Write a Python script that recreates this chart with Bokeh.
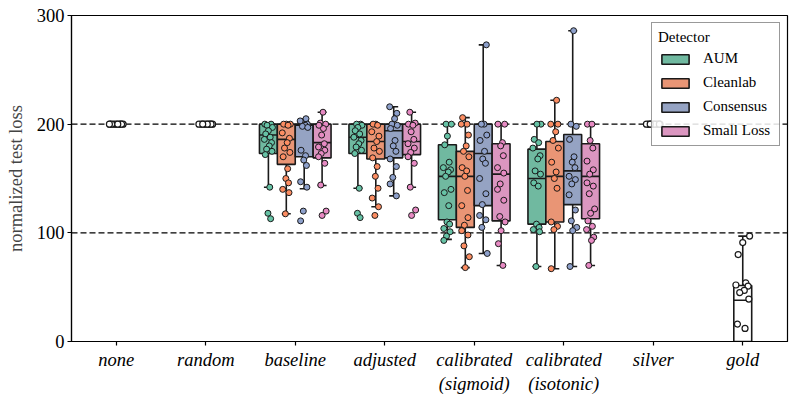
from bokeh.plotting import figure
from bokeh.models import Range1d, FixedTicker, Span, ColumnDataSource, Legend, LegendItem
from bokeh.embed import file_html
from bokeh.resources import INLINE

categories = ["none", "random", "baseline", "adjusted", "calibrated\n(sigmoid)",
              "calibrated\n(isotonic)", "silver", "gold"]
detectors = ["AUM", "Cleanlab", "Consensus", "Small Loss"]
y_ticks = [0, 100, 200, 300]
ref_lines = [100, 200]

# categories where detectors are compared
det_categories = ["baseline", "adjusted", "calibrated\n(sigmoid)", "calibrated\n(isotonic)"]
# box statistics per detector, one value per det_category
q1 = {"AUM": [173, 173, 112, 108], "Cleanlab": [163, 168, 105, 110],
      "Consensus": [170, 169, 125, 126], "Small Loss": [169, 172, 111, 113]}
med = {"AUM": [190, 188, 152, 150], "Cleanlab": [186, 184, 152, 152],
       "Consensus": [199, 194, 173, 157], "Small Loss": [183, 184, 154, 152]}
q3 = {"AUM": [200, 200, 181, 177], "Cleanlab": [200, 200, 175, 184],
      "Consensus": [200, 200, 200, 190.5], "Small Loss": [200, 200, 182, 182]}
wlo = {"AUM": [142, 141, 94, 69], "Cleanlab": [117.5, 124, 68, 67],
       "Consensus": [140.5, 134, 81, 69], "Small Loss": [143.5, 142, 70, 70]}
whi = {"AUM": [200, 200, 200, 200], "Cleanlab": [200, 200, 206, 222],
       "Consensus": [205, 216, 273, 286], "Small Loss": [211, 211, 200, 200]}

# individual runs
pts = {
    "AUM": [
        [200, 200, 199, 197, 194, 191, 188, 186, 183, 180, 177, 175, 172, 142, 118, 113],
        [200, 200, 199, 197, 194, 191, 188, 185, 182, 179, 176, 173, 141, 118, 114],
        [200, 200, 189, 181, 165, 160, 158, 156, 152, 140, 137, 125, 110, 108, 104, 101, 97, 93],
        [200, 200, 186, 183, 178, 171, 168, 157, 154, 146, 143, 108, 105, 103, 101, 69],
    ],
    "Cleanlab": [
        [200, 200, 200, 199, 192, 187, 183, 178, 174, 170, 159, 150, 146, 140, 137, 117.5],
        [200, 200, 199, 193, 189, 184, 178, 175, 169, 161, 152, 141, 132, 124, 116],
        [206, 200, 200, 190, 180, 175, 170, 160, 157, 152, 139, 125, 114, 107, 102, 98, 88, 78, 68],
        [222, 200, 200, 193, 185, 178, 165, 156, 150, 141, 110, 106, 103, 67],
    ],
    "Consensus": [
        [205, 203, 200, 199, 198, 197, 176, 171, 167, 162, 147, 142, 120, 111],
        [216, 210, 205, 200, 199, 196, 185, 180, 175, 168, 161, 151, 145, 134],
        [273, 200, 200, 190, 185, 175, 168, 164, 150, 136, 126, 116, 112, 105, 81],
        [286, 200, 198, 186, 170, 165, 160, 152, 149, 145, 135, 121, 111, 105, 102, 69],
    ],
    "Small Loss": [
        [211, 201, 200, 199, 196, 190, 182, 179, 176, 173, 170, 164, 144, 120, 116],
        [211, 201, 200, 199, 193, 186, 182, 178, 174, 170, 164, 142, 121, 116],
        [200, 200, 183, 180, 171, 160, 155, 145, 140, 130, 115, 110, 102, 90, 70],
        [200, 200, 185, 178, 166, 158, 154, 146, 143, 136, 122, 118, 111, 106, 103, 96, 93, 70],
    ],
}

# single-box categories
single_categories = ["none", "random", "silver", "gold"]
single_q1 = [200, 200, 200, -5]
single_med = [200, 200, 200, 38]
single_q3 = [200, 200, 200, 51.5]
single_lo = [200, 200, 200, -30]
single_hi = [200, 200, 200, 97]
single_pts = [
    [200] * 10,
    [200] * 10,
    [200] * 10,
    [97, 91, 80, 54, 52, 51, 47, 45, 39, 16, 12],
]

box_colors = ["#70b9a0", "#e99575", "#95a3c3", "#db96c0"]
point_colors = ["#66c2a5", "#fc8d62", "#8da0cb", "#e78ac3"]
jit = [-0.04, 0.03, -0.015, 0.045, 0.0, -0.03, 0.02, -0.045, 0.035, 0.01,
       -0.02, 0.04, -0.035, 0.015, -0.005, 0.025, -0.04, 0.03, -0.01]

FONT = "Liberation Serif"
LINE = "#1a1a1a"
BOXW = 0.2
FS = "18.5px"

p = figure(frame_width=716, frame_height=326, output_backend="svg", toolbar_location=None,
           x_range=Range1d(0, len(categories)), y_range=Range1d(0, 300),
           min_border_left=71, min_border_right=3, min_border_top=15, min_border_bottom=52)
p.xgrid.visible = False
p.ygrid.visible = False
p.outline_line_color = "black"
p.outline_line_width = 1.2
p.background_fill_color = "white"

for r in ref_lines:
    p.add_layout(Span(location=r, dimension="width", line_color="black",
                      line_dash="6 3", line_width=1.4, level="underlay"))

def cx(cat):
    return categories.index(cat) + 0.5

legend_items = []
for d, det in enumerate(detectors):
    off = (d - 1.5) * BOXW
    xs = [cx(c) + off for c in det_categories]
    src = ColumnDataSource(dict(x=xs, q1=q1[det], med=med[det], q3=q3[det],
                                lo=wlo[det], hi=whi[det],
                                x0=[x - BOXW / 4 for x in xs], x1=[x + BOXW / 4 for x in xs],
                                m0=[x - BOXW / 2 for x in xs], m1=[x + BOXW / 2 for x in xs]))
    p.segment(x0="x", y0="q3", x1="x", y1="hi", source=src, line_color=LINE, line_width=1.6)
    p.segment(x0="x", y0="q1", x1="x", y1="lo", source=src, line_color=LINE, line_width=1.6)
    p.segment(x0="x0", y0="hi", x1="x1", y1="hi", source=src, line_color=LINE, line_width=1.6)
    p.segment(x0="x0", y0="lo", x1="x1", y1="lo", source=src, line_color=LINE, line_width=1.6)
    rb = p.vbar(x="x", width=BOXW, bottom="q1", top="q3", source=src,
                fill_color=box_colors[d], line_color=LINE, line_width=1.6)
    p.segment(x0="m0", y0="med", x1="m1", y1="med", source=src, line_color=LINE, line_width=1.6)
    legend_items.append(LegendItem(label=det, renderers=[rb]))

# single boxes
sx = [cx(c) for c in single_categories]
ssrc = ColumnDataSource(dict(x=sx, q1=single_q1, med=single_med, q3=single_q3,
                             lo=single_lo, hi=single_hi,
                             x0=[x - BOXW / 4 for x in sx], x1=[x + BOXW / 4 for x in sx],
                             m0=[x - BOXW / 2 for x in sx], m1=[x + BOXW / 2 for x in sx]))
p.segment(x0="x", y0="q3", x1="x", y1="hi", source=ssrc, line_color=LINE, line_width=1.6)
p.segment(x0="x", y0="q1", x1="x", y1="lo", source=ssrc, line_color=LINE, line_width=1.6)
p.segment(x0="x0", y0="hi", x1="x1", y1="hi", source=ssrc, line_color=LINE, line_width=1.6)
p.vbar(x="x", width=BOXW, bottom="q1", top="q3", source=ssrc,
       fill_color="white", line_color=LINE, line_width=1.6)
p.segment(x0="m0", y0="med", x1="m1", y1="med", source=ssrc, line_color=LINE, line_width=1.6)

# points
for d, det in enumerate(detectors):
    off = (d - 1.5) * BOXW
    px, py = [], []
    for i, c in enumerate(det_categories):
        vals = pts[det][i]
        for k, v in enumerate(vals):
            px.append(cx(c) + off + jit[(k + 3 * d + i) % len(jit)])
            py.append(v)
    p.scatter(px, py, size=6, fill_color=point_colors[d], line_color=LINE, line_width=1)

px, py = [], []
for i, c in enumerate(single_categories):
    for k, v in enumerate(single_pts[i]):
        px.append(cx(c) + 1.7 * jit[(k + i) % len(jit)])
        py.append(v)
p.scatter(px, py, size=6, fill_color="white", line_color=LINE, line_width=1.2)

# axes
p.xaxis.ticker = FixedTicker(ticks=[i + 0.5 for i in range(len(categories))])
p.xaxis.major_label_overrides = {i + 0.5: c for i, c in enumerate(categories)}
p.xaxis.major_label_text_font_style = "italic"
p.yaxis.ticker = FixedTicker(ticks=y_ticks)
p.yaxis.axis_label = "normalized test loss"
p.yaxis.axis_label_text_font_style = "normal"
p.yaxis.axis_label_text_font_size = FS
p.yaxis.axis_label_text_font = FONT
p.yaxis.axis_label_standoff = 8
for ax in (p.xaxis, p.yaxis):
    ax.major_label_text_font = FONT
    ax.major_label_text_font_size = FS
    ax.major_label_text_color = "black"
    ax.axis_line_color = "black"
    ax.axis_line_width = 1.2
    ax.major_tick_line_color = "black"
    ax.major_tick_line_width = 1.2
    ax.major_tick_out = 4
    ax.major_tick_in = 0
    ax.minor_tick_line_color = None
p.yaxis.major_label_standoff = 3
p.xaxis.major_label_standoff = 4

legend = Legend(items=legend_items, location="top_right", title="Detector")
legend.title_text_font = FONT
legend.title_text_font_size = "15px"
legend.title_text_font_style = "normal"
legend.title_text_color = "black"
legend.title_standoff = 4
legend.label_text_font = FONT
legend.label_text_font_size = "15px"
legend.label_text_color = "black"
legend.glyph_width = 34
legend.glyph_height = 12
legend.label_standoff = 11
legend.label_width = 70
legend.spacing = 7
legend.padding = 6
legend.margin = 7
legend.border_line_color = "#333333"
legend.border_line_width = 1
legend.background_fill_alpha = 0.85
p.add_layout(legend)

open("out.html", "w").write(file_html(p, INLINE))
